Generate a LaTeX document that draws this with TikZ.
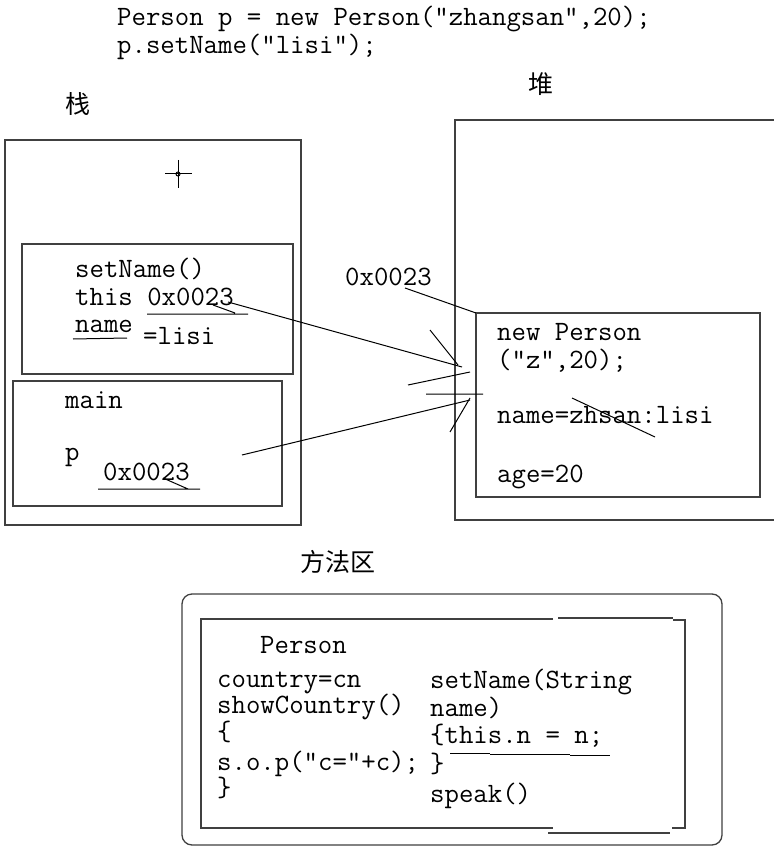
\documentclass[tikz,border=0pt]{standalone}
\usepackage{fontspec}
\newfontfamily\cjk{Noto Sans CJK SC}
\usetikzlibrary{positioning,calc}
\definecolor{boxgray}{HTML}{404040}

\begin{document}
\begin{tikzpicture}[x=1pt, y=-1pt,
  frame/.style={draw=boxgray, line width=1.3pt},
  wire/.style={draw=black, line width=1pt},
  box/.style={frame, anchor=north west, inner sep=0pt, outer sep=0pt},
  code/.style={anchor=base west, inner sep=0pt, text=black,
    text height=18pt, text depth=4pt,
    font=\ttfamily\fontsize{28}{30}\selectfont},
  hanzi/.style={inner sep=0pt, font=\cjk\fontsize{25}{25}\selectfont}]
  \useasboundingbox[fill=white] (0,0) rectangle (773,850);

  % the two statements
  \node (stmt1) [code] at (117,26) {Person p = new Person(”zhangsan”,20);};
  \node (stmt2) [code] at (117,54) {p.setName(”lisi”);};

  % stack
  \node (zhan) [hanzi] at (78,104) {栈};
  \node (stack) [box, minimum width=296, minimum height=385] at (5,140) {};
  \coordinate (cross) at (178,174);
  \draw[wire] (165,174) -- (192,174) (178,160) -- (178,188);
  \draw[wire] (cross) circle (2);

  \node (setframe) [box, minimum width=271, minimum height=130] at (22,244) {};
  \node (setname) [code] at (75,277) {setName()};
  \node (thisval) [code] at (75,305) {this 0x0023};
  \node (namevar) [code] at (75,332) {name};
  \node (lisi) [code] at (143,344) {=lisi};
  \draw[wire] (147,314) -- (248,314) (73,339) -- (127,338) (213,305) -- (235,313);

  \node (mainframe) [box, minimum width=269, minimum height=125] at (13,381) {};
  \node (mainlbl) [code] at (65,408) {main};
  \node (pvar) [code] at (65,460) {p};
  \node (pval) [code] at (103,480) {0x0023};
  \draw[wire] (98,489) -- (200,489) (163,478) -- (188,489);

  % heap
  \node (dui) [hanzi] at (541,84) {堆};
  \draw[frame] (780,120) -- (455,120) -- (455,520) -- (780,520);
  \node (obj) [box, minimum width=284, minimum height=184] at (476,313) {};
  \node (addr) [code] at (345,285) {0x0023};
  \node (newp) [code] at (497,340) {new Person};
  \node (args) [code] at (497,368) {(”z”,20);};
  \node (field1) [code] at (497,423) {name=zhsan:lisi};
  \node (field2) [code] at (497,482) {age=20};
  \draw[wire] (572,398) -- (655,437);

  % pointers
  \coordinate (src1) at (228,302);
  \coordinate (tip1) at (462,367);
  \coordinate (src2) at (242,455);
  \coordinate (tip2) at (470,400);
  \coordinate (addrend) at (405,288);
  \draw[wire] (src1) -- (tip1);
  \draw[wire] (430,330) -- (458,365) (408,385) -- (470,372);
  \draw[wire] (src2) -- (tip2);
  \draw[wire] (426,394) -- (483,394) (450,432) -- (470,398);
  \draw[wire] (addrend) -- (obj.north west);

  % method area
  \node (ffq) [hanzi] at (338,562) {方法区};
  \draw[frame, rounded corners=10pt] (182,594) rectangle (722,845);
  \draw[frame] (553,619) -- (201,619) -- (201,828) -- (553,828);
  \draw[frame] (558,618) -- (673,618) (673,620) -- (685,620) -- (685,828) -- (672,828);
  \draw[frame] (548,833) -- (670,833);

  \node (cls) [code] at (260,653) {Person};
  \node (m1) [code] at (217,687) {country=cn};
  \node (m2) [code] at (217,713) {showCountry()};
  \node (m3) [code] at (217,740) {\{};
  \node (m4) [code] at (217,770) {s.o.p(”c=”+c);};
  \node (m5) [code] at (217,796) {\}};
  \node (n1) [code] at (430,688) {setName(String};
  \node (n2) [code] at (430,716) {name)};
  \node (n3) [code] at (430,743) {\{this.n = n;};
  \node (n4) [code] at (430,772) {\}};
  \node (n5) [code] at (430,802) {speak()};
  \draw[wire] (450,753) -- (490,753) (490,754) -- (570,754) (570,755) -- (610,755);
\end{tikzpicture}
\end{document}
